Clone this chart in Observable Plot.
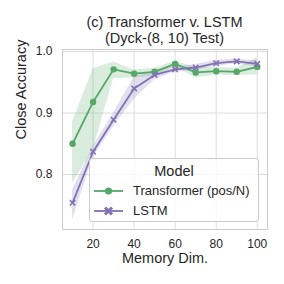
<!DOCTYPE html>
<html><head><meta charset="utf-8">
<script src="https://cdn.jsdelivr.net/npm/d3@7"></script>
<script src="https://cdn.jsdelivr.net/npm/@observablehq/plot@0.6"></script>
<style>
body{margin:0;background:#fff;font-family:"Liberation Sans",Arial,sans-serif;color:#262626}
#wrap{position:relative;width:284px;height:284px;overflow:hidden}
#title{height:46px;box-sizing:border-box;padding-top:14px;padding-left:62px;width:267px;text-align:center;font-size:14.5px;line-height:16px}
#legend{position:absolute;left:89px;top:158px;width:168px;height:62px;border:1px solid #cccccc;border-radius:3px;background:rgba(255,255,255,0.8)}
#legend .lt{position:absolute;left:0;right:0;top:3px;text-align:center;font-size:14.5px;line-height:18px}
#legend .row{position:absolute;left:0;height:18px;width:168px}
#legend .row svg{position:absolute;left:3px;top:0}
#legend .row span{position:absolute;left:43px;top:0;font-size:13px;line-height:18px;white-space:nowrap}
</style></head>
<body>
<div id="wrap">
<div id="title">(c) Transformer v. LSTM<br>(Dyck-(8, 10) Test)</div>
<div id="chart"></div>
<div id="legend"></div>
</div>
<script>
const memDim = [10, 20, 30, 40, 50, 60, 70, 80, 90, 100];
const transformerMean = [0.850, 0.918, 0.971, 0.964, 0.967, 0.980, 0.966, 0.968, 0.967, 0.975];
const transformerLow  = [0.786, 0.840, 0.956, 0.957, 0.960, 0.976, 0.957, 0.962, 0.961, 0.962];
const transformerHigh = [0.885, 0.972, 0.983, 0.970, 0.973, 0.984, 0.974, 0.974, 0.973, 0.990];
const lstmMean = [0.754, 0.837, 0.889, 0.940, 0.962, 0.971, 0.974, 0.981, 0.984, 0.980];
const lstmLow  = [0.726, 0.828, 0.878, 0.922, 0.954, 0.967, 0.969, 0.976, 0.980, 0.975];
const lstmHigh = [0.775, 0.846, 0.900, 0.958, 0.969, 0.975, 0.979, 0.986, 0.988, 0.985];
const seriesNames = ["Transformer (pos/N)", "LSTM"];
const xTicks = [20, 40, 60, 80, 100];
const yTicks = [0.8, 0.9, 1.0];

const green = "#55a868", purple = "#8172b3";
const tData = memDim.map((x, i) => ({x, y: transformerMean[i], lo: transformerLow[i], hi: transformerHigh[i]}));
const lData = memDim.map((x, i) => ({x, y: lstmMean[i], lo: lstmLow[i], hi: lstmHigh[i]}));

const chart = Plot.plot({
  width: 284, height: 238,
  marginTop: 3, marginBottom: 55, marginLeft: 62, marginRight: 17,
  style: {fontFamily: '"Liberation Sans", Arial, sans-serif', fontSize: "12px", color: "#262626", background: "transparent", overflow: "visible"},
  x: {domain: [5.1, 105], ticks: xTicks, tickSize: 0, tickPadding: 10, label: null},
  y: {domain: [0.7106, 1.0033], ticks: yTicks, tickSize: 0, tickPadding: 10, tickFormat: d3.format(".1f"), label: null},
  marks: [
    Plot.gridX(xTicks, {stroke: "#dddddd", strokeOpacity: 1}),
    Plot.gridY(yTicks, {stroke: "#dddddd", strokeOpacity: 1}),
    Plot.frame({stroke: "#cccccc"}),
    Plot.areaY(tData, {x: "x", y1: "lo", y2: "hi", fill: green, fillOpacity: 0.22}),
    Plot.areaY(lData, {x: "x", y1: "lo", y2: "hi", fill: purple, fillOpacity: 0.22}),
    Plot.line(tData, {x: "x", y: "y", stroke: green, strokeWidth: 1.8}),
    Plot.dot(tData, {x: "x", y: "y", r: 3.2, fill: green, stroke: "none"}),
    Plot.line(lData, {x: "x", y: "y", stroke: purple, strokeWidth: 1.8}),
    Plot.dot(lData, {x: "x", y: "y", r: 2.6, symbol: "times", stroke: purple, strokeWidth: 1.6}),
    Plot.text(["Memory Dim."], {text: d => d, frameAnchor: "bottom", dy: 33, fontSize: 14.5, fill: "#262626"}),
    Plot.text(["Close Accuracy"], {text: d => d, frameAnchor: "left", rotate: -90, dx: -41, fontSize: 14.5, fill: "#262626"})
  ]
});
document.getElementById("chart").appendChild(chart);

// legend
const leg = document.getElementById("legend");
leg.innerHTML = '<div class="lt">Model</div>';
const markers = [
  `<circle cx="15.5" cy="9" r="3.6" fill="${green}"/>`,
  `<path d="M12,5.5 L19,12.5 M19,5.5 L12,12.5" stroke="${purple}" stroke-width="3"/>`
];
const colors = [green, purple];
seriesNames.forEach((name, i) => {
  const row = document.createElement("div");
  row.className = "row";
  row.style.top = (23 + i * 20) + "px";
  row.innerHTML = `<svg width="32" height="18"><line x1="1" x2="30" y1="9" y2="9" stroke="${colors[i]}" stroke-width="1.8"/>${markers[i]}</svg><span>${name}</span>`;
  leg.appendChild(row);
});
</script>
</body></html>
